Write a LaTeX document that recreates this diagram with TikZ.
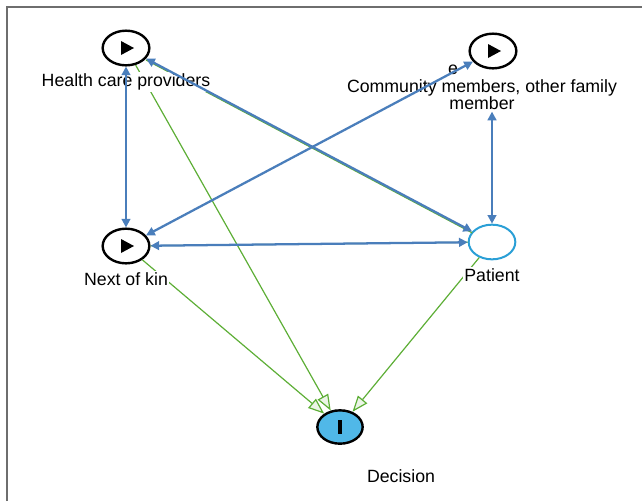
\documentclass[tikz,border=0pt]{standalone}
\usepackage{fontspec}
\setmainfont{Liberation Sans}
\usepackage{tikz}
\usetikzlibrary{shapes.geometric}
\usetikzlibrary{arrows.meta}
\definecolor{linkblue}{HTML}{4A7EBB}
\definecolor{flowgreen}{HTML}{5DAE36}
\definecolor{patientcyan}{HTML}{2A9FD6}
\definecolor{decisionblue}{HTML}{50B8E8}
\definecolor{framegray}{HTML}{6E6E6E}
\tikzset{
	actor/.style={draw,ellipse,line width=1.8pt,minimum width=35pt,minimum height=26pt,inner sep=0pt,
		path picture={\fill[black] ([shift={(-3.75pt,5.25pt)}]path picture bounding box.center) -- ++(0,-10.5pt) -- ++(9.75pt,5.25pt) -- cycle;}},
	patient/.style={draw=patientcyan,ellipse,line width=1.5pt,fill=white,minimum width=35pt,minimum height=26pt,inner sep=0pt},
	decision/.style={draw,ellipse,line width=1.8pt,fill=decisionblue,minimum width=34pt,minimum height=25pt,inner sep=0pt,
		path picture={\fill[black] ([shift={(-1.75pt,-5pt)}]path picture bounding box.center) rectangle ++(3.5pt,10pt);}},
	tag/.style={fill=white,inner sep=1pt,align=center,font=\fontsize{13.3}{12.75}\selectfont},
	bluelink/.style={draw=linkblue,line width=1.7pt,<->,>={Triangle[length=6.5pt,width=6.5pt]}},
	greenflow/.style={draw=flowgreen,line width=0.9pt,-{Triangle[length=12pt,width=9pt,fill=flowgreen!12]}},
	greenline/.style={draw=flowgreen,line width=0.9pt},
	frameline/.style={draw=framegray,line width=1.5pt}
}

\begin{document}
\begin{tikzpicture}[x=0.75pt,y=-0.75pt]
	\useasboundingbox (0,0) rectangle (642,501);
	\draw[frameline] (7,501) -- (7,7) -- (642,7);
	\node[actor] (0) at (126,48) {};
	\node[actor] (1) at (493,51) {};
	\node[actor] (2) at (126,246) {};
	\node[patient] (3) at (492,242) {};
	\node[decision] (4) at (340,427) {};
	\draw[greenflow] (0) to (4);
	\draw[greenflow] (2) to (4);
	\draw[greenflow] (3) to (4);
	\draw[greenline, transform canvas={yshift=-1pt}] (0) to (3);
	\draw[greenline] (2) to (3);
	\node[tag] (5) at (126,82) {Health care providers};
	\node[tag] (6) at (482,95) {Community members, other family\\member};
	\node[tag] (7) at (453,70) {e};
	\node[tag] (8) at (126,279) {Next of kin};
	\node[tag] (9) at (492,275) {Patient};
	\node[tag] (10) at (401,476) {Decision};
	\draw[bluelink] (0) to (2);
	\draw[bluelink] (0) to (3);
	\draw[bluelink] (2) to (1);
	\draw[bluelink] (2) to (3);
	\draw[bluelink] (6.south -| 3) to (3);
\end{tikzpicture}
\end{document}
